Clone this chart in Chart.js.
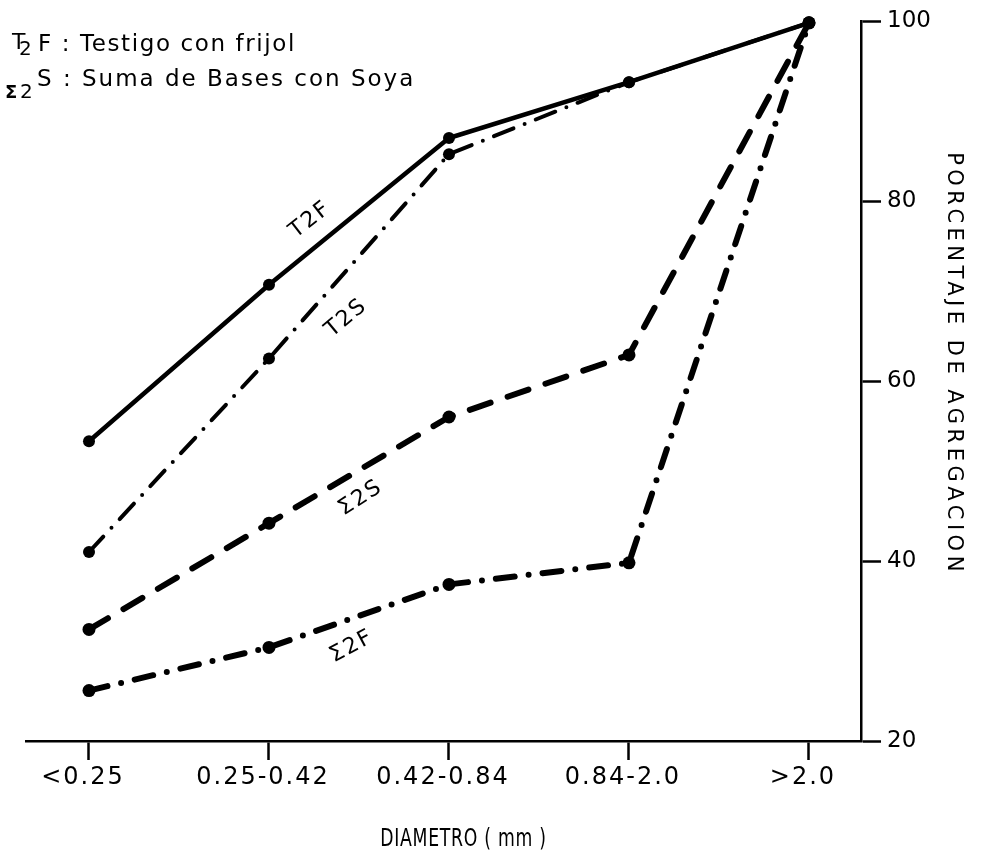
<!DOCTYPE html>
<html><head><meta charset="utf-8">
<script src="https://cdn.jsdelivr.net/npm/chart.js@4.4.1/dist/chart.umd.min.js"></script>
<style>html,body{margin:0;padding:0;background:#fff;} canvas{display:block;}</style>
</head><body>
<canvas id="c" width="984" height="862"></canvas>
<script>
const categories = ['<0.25', '0.25-0.42', '0.42-0.84', '0.84-2.0', '>2.0'];
const seriesT2F = [53.3, 70.7, 87.0, 93.2, 99.8];
const seriesT2S = [41.0, 62.5, 85.2, 93.2, 99.8];
const seriesS2S = [32.4, 44.2, 56.0, 62.9, 99.8];
const seriesS2F = [25.6, 30.4, 37.4, 39.8, 99.8];
const yTickValues = [20, 40, 60, 80, 100];
const seriesNames = ['T2F', 'T2S', 'Σ2S', 'Σ2F'];

const FONT = 'DejaVu Sans';
Chart.defaults.font.family = FONT;
Chart.defaults.color = '#000';

function pts(arr) { return arr.map((v, i) => ({ x: i, y: v })); }

// draw a scale part with extra letter spacing, an offset and an optional horizontal squeeze
function wrap(scale, method, o) {
  const key = '_wrapped_' + method;
  if (scale[key]) return;
  const orig = scale[method];
  scale[method] = function (...args) {
    const ctx = this.ctx;
    const cx = (this.left + this.right) / 2;
    ctx.save();
    ctx.letterSpacing = (o.sp || 0) + 'px';
    ctx.translate(cx + (o.dx || 0), o.dy || 0);
    ctx.scale(o.sx || 1, 1);
    ctx.translate(-cx, 0);
    orig.apply(this, args);
    ctx.restore();
  };
  scale[key] = true;
}

function txt(ctx, s, x, y, size, o = {}) {
  ctx.save();
  ctx.font = (o.bold ? 'bold ' : '') + size + 'px "' + FONT + '"';
  ctx.letterSpacing = (o.sp || 0) + 'px';
  ctx.fillStyle = '#000';
  ctx.textAlign = o.align || 'left';
  ctx.textBaseline = o.base || 'alphabetic';
  ctx.translate(x, y);
  if (o.rot) ctx.rotate(o.rot * Math.PI / 180);
  ctx.fillText(s, 0, 0);
  ctx.restore();
}

const lineLabels = [
  { text: seriesNames[0], at: 1.23, v: 77.9, rot: -38 },
  { text: seriesNames[1], at: 1.43, v: 67.0, rot: -40 },
  { text: seriesNames[2], at: 1.51, v: 47.0, rot: -33 },
  { text: seriesNames[3], at: 1.46, v: 30.5, rot: -28 }
];

const annotate = {
  id: 'annotate',
  beforeDraw(chart) {
    const s = chart.scales;
    wrap(s.x, 'drawLabels', { sp: 2, dx: -6 });
    wrap(s.x, 'drawTitle', { sp: 1, dx: 20, sx: 0.72 });
    wrap(s.y, 'drawTitle', { sp: 4.5, dy: -17 });
  },
  afterDraw(chart) {
    const ctx = chart.ctx;
    const sx = chart.scales.x, sy = chart.scales.y;
    // legend text (top-left)
    txt(ctx, 'T', 12, 49, 22);
    txt(ctx, '2', 19, 55, 20);
    txt(ctx, 'F : Testigo con frijol', 38, 51, 23, { sp: 1.6 });
    txt(ctx, 'Σ', 5, 98, 18, { bold: true });
    txt(ctx, '2', 20, 98, 20);
    txt(ctx, 'S : Suma de Bases con Soya', 37, 86, 23, { sp: 2 });
    // line labels
    lineLabels.forEach(l => {
      txt(ctx, l.text, sx.getPixelForValue(l.at), sy.getPixelForValue(l.v), 22,
        { sp: 2, align: 'center', base: 'middle', rot: l.rot });
    });
  }
};

const common = {
  borderColor: '#000', backgroundColor: '#000', pointBackgroundColor: '#000',
  pointBorderWidth: 0, tension: 0, fill: false, clip: false,
  borderCapStyle: 'round', borderJoinStyle: 'round'
};

const gridOpts = (len) => ({
  drawOnChartArea: false, drawTicks: true, tickLength: len,
  tickWidth: 2.5, tickColor: '#000'
});

new Chart(document.getElementById('c'), {
  type: 'line',
  data: {
    datasets: [
      Object.assign({ label: seriesNames[0], data: pts(seriesT2F), borderWidth: 4.5, borderDash: [], pointRadius: 6, pointHoverRadius: 6 }, common),
      Object.assign({ label: seriesNames[1], data: pts(seriesT2S), borderWidth: 4, borderDash: [21, 12, 0, 12], pointRadius: 6, pointHoverRadius: 6 }, common),
      Object.assign({ label: seriesNames[2], data: pts(seriesS2S), borderWidth: 6, borderDash: [22, 18], pointRadius: 6.5, pointHoverRadius: 6.5 }, common),
      Object.assign({ label: seriesNames[3], data: pts(seriesS2F), borderWidth: 6, borderDash: [19, 14, 0, 14], pointRadius: 6.5, pointHoverRadius: 6.5 }, common)
    ]
  },
  options: {
    responsive: false,
    animation: false,
    devicePixelRatio: 1,
    layout: { padding: { left: 26, top: 21, right: 0, bottom: 0 } },
    plugins: { legend: { display: false }, tooltip: { enabled: false } },
    events: [],
    scales: {
      x: {
        type: 'linear', min: -0.35, max: 4.289,
        afterBuildTicks: s => { s.ticks = categories.map((c, i) => ({ value: i })); },
        afterFit: s => { s.height = 121; },
        grid: gridOpts(19),
        border: { display: true, color: '#000', width: 2.5 },
        ticks: { callback: v => categories[v], font: { size: 24 }, padding: 3, maxRotation: 0, autoSkip: false, color: '#000' },
        title: { display: true, text: 'DIAMETRO ( mm )', font: { size: 24 }, padding: { top: 0, bottom: 8 }, color: '#000' }
      },
      y: {
        type: 'linear', position: 'right', min: 20, max: 100,
        afterBuildTicks: s => { s.ticks = yTickValues.map(v => ({ value: v })); },
        afterFit: s => { s.width = 123; },
        grid: gridOpts(20),
        border: { display: true, color: '#000', width: 2.5 },
        ticks: { font: { size: 23 }, padding: 6, color: '#000' },
        title: { display: true, text: 'PORCENTAJE DE AGREGACION', font: { size: 21 }, padding: { top: 18, bottom: 0 }, color: '#000' }
      }
    }
  },
  plugins: [annotate]
});
</script>
</body></html>
